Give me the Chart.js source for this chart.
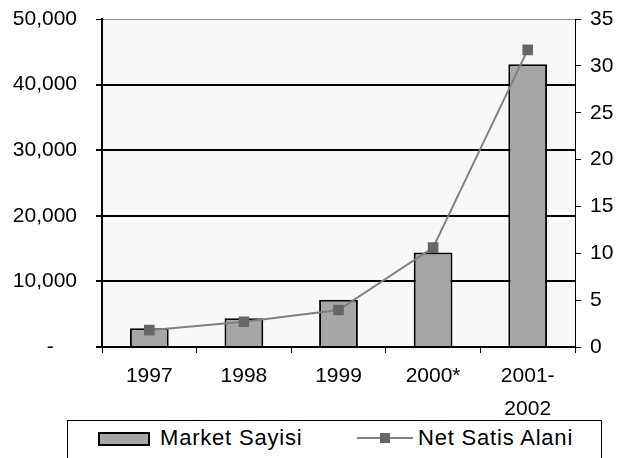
<!DOCTYPE html>
<html>
<head>
<meta charset="utf-8">
<script src="https://cdn.jsdelivr.net/npm/chart.js@4"></script>
<style>
    body { margin: 0; background: #fff; overflow: hidden; }
    #wrap { position: relative; width: 623px; height: 458px; font-family: "Liberation Sans", Arial, sans-serif; }
    #chart { position: absolute; left: 0; top: 0; }
    #legend { position: absolute; left: 67px; top: 420px; width: 535px; height: 50px; border: 1px solid #000; box-sizing: border-box; }
    .item { position: absolute; font-size: 22px; letter-spacing: 0.8px; line-height: 30px; top: 2px; color: #000; }
    .swatch { position: absolute; left: 30px; top: 11px; width: 52px; height: 14px; background: #a6a6a6; border: 2px solid #000; box-sizing: border-box; }
    .lin { position: absolute; left: 289px; top: 16px; width: 56px; height: 2px; background: #808080; }
    .mark { position: absolute; left: 312px; top: 12px; width: 10px; height: 10px; background: #666; }
</style>
</head>
<body>
<div id="wrap">
    <canvas id="chart" width="623" height="420"></canvas>
    <div id="legend">
        <div class="swatch"></div>
        <div class="item" style="left:92px">Market Sayisi</div>
        <div class="lin"></div>
        <div class="mark"></div>
        <div class="item" style="left:350px">Net Satis Alani</div>
    </div>
</div>
<script>
    const years = ['1997', '1998', '1999', '2000*', ['2001-', '2002']];
    const marketSayisi = [2850, 4400, 7200, 14400, 43100];
    const netSatisAlani = [1.8, 2.7, 3.95, 10.6, 31.7];

    const tickFont = { family: 'Liberation Sans', size: 21 };

    const fondo = {
        id: 'fondo',
        beforeDraw(chart) {
            const { ctx, chartArea } = chart;
            ctx.save();
            ctx.fillStyle = '#f8f8f8';
            ctx.fillRect(chartArea.left, chartArea.top, chartArea.width, chartArea.height);
            ctx.restore();
        }
    };

    // ancho fijo del eje y sin relleno vertical extra
    function fijarAncho(ancho) {
        return s => {
            s.width = ancho;
            s.paddingTop = 0;
            s.paddingBottom = 0;
        };
    }

    new Chart(document.getElementById('chart').getContext('2d'), {
        type: 'bar',
        data: {
            labels: years,
            datasets: [
                {
                    type: 'line',
                    label: 'Net Satis Alani',
                    data: netSatisAlani,
                    yAxisID: 'y1',
                    borderColor: '#808080',
                    borderWidth: 2,
                    tension: 0,
                    pointStyle: 'rect',
                    pointRadius: 7.5,
                    pointBackgroundColor: '#666',
                    pointBorderColor: '#666',
                    pointBorderWidth: 0,
                    order: 0
                },
                {
                    label: 'Market Sayisi',
                    data: marketSayisi,
                    yAxisID: 'y',
                    backgroundColor: '#a6a6a6',
                    borderColor: '#000',
                    borderWidth: 2,
                    categoryPercentage: 1,
                    barPercentage: 0.41,
                    order: 1
                }
            ]
        },
        options: {
            responsive: false,
            animation: false,
            layout: { padding: { top: 19, left: 0, right: 0, bottom: 0 } },
            plugins: {
                legend: { display: false },
                tooltip: { enabled: false }
            },
            scales: {
                x: {
                    afterFit: s => { s.height = 73; },
                    grid: { offset: true, drawOnChartArea: false, tickLength: 6, color: '#000', lineWidth: 1 },
                    border: { display: true, color: '#000', width: 2 },
                    ticks: { color: '#000', font: { family: 'Liberation Sans', size: 21, lineHeight: 1.55 }, padding: 7, maxRotation: 0 }
                },
                y: {
                    position: 'left',
                    min: 0,
                    max: 50000,
                    afterFit: fijarAncho(102),
                    grid: {
                        color: c => c.tick && c.tick.value === 50000 ? '#888' : '#000',
                        lineWidth: c => c.tick && c.tick.value === 50000 ? 1 : 2,
                        tickColor: '#000',
                        tickLength: 6
                    },
                    border: { display: true, color: '#000', width: 2 },
                    ticks: {
                        stepSize: 10000,
                        color: '#000',
                        font: tickFont,
                        padding: 19,
                        callback: v => v === 0 ? '-    ' : v.toLocaleString('en-US')
                    }
                },
                y1: {
                    position: 'right',
                    min: 0,
                    max: 35,
                    afterFit: fijarAncho(48),
                    grid: { drawOnChartArea: false, color: '#000', tickLength: 6, lineWidth: 1 },
                    border: { display: true, color: '#000', width: 1 },
                    ticks: { stepSize: 5, color: '#000', font: tickFont, padding: 9 }
                }
            }
        },
        plugins: [fondo]
    });
</script>
</body>
</html>
